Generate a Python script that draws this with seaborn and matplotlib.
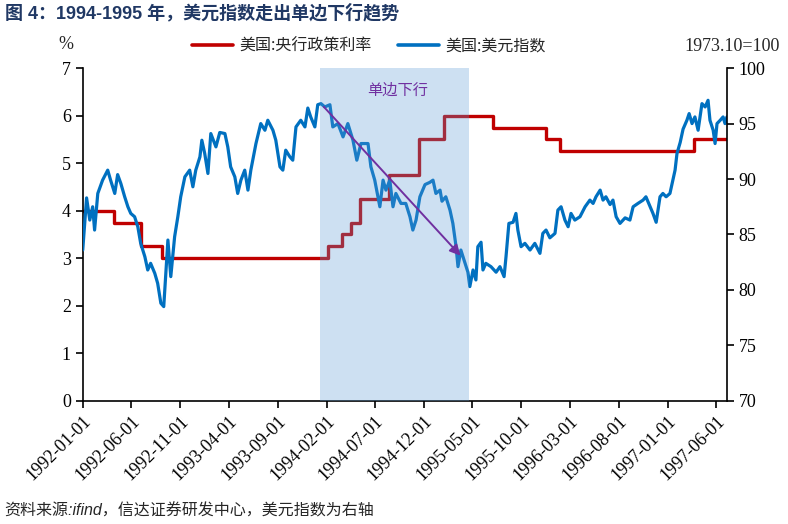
import matplotlib
matplotlib.use('Agg')
import matplotlib.pyplot as plt
from matplotlib.lines import Line2D
import pandas as pd
import seaborn as sns

# ---- data ----
rate_dates = ['1992-01-01', '1992-04-09', '1992-07-02', '1992-09-04', '1994-02-04', '1994-03-22',
              '1994-04-18', '1994-05-17', '1994-08-16', '1994-11-15', '1995-02-01', '1995-07-06',
              '1995-12-19', '1996-01-31', '1997-03-25', '1997-07-05']
rate_values = [4.00, 3.75, 3.25, 3.00, 3.25, 3.50, 3.75, 4.25, 4.75, 5.50, 6.00, 5.75,
               5.50, 5.25, 5.50, 5.50]

usdx_dates = [
    '1992-01-01', '1992-01-07', '1992-01-13', '1992-01-23', '1992-02-01', '1992-02-07', '1992-02-17',
    '1992-03-03', '1992-03-19', '1992-03-28', '1992-04-10', '1992-04-19', '1992-04-29', '1992-05-11',
    '1992-05-21', '1992-05-30', '1992-06-11', '1992-06-21', '1992-06-30', '1992-07-13', '1992-07-22',
    '1992-07-31', '1992-08-13', '1992-08-22', '1992-09-01', '1992-09-10', '1992-09-16', '1992-09-23',
    '1992-10-02', '1992-10-14', '1992-10-24', '1992-11-02', '1992-11-15', '1992-11-30', '1992-12-10',
    '1992-12-19', '1993-01-01', '1993-01-07', '1993-01-16', '1993-01-26', '1993-02-04', '1993-02-20',
    '1993-03-04', '1993-03-20', '1993-03-29', '1993-04-07', '1993-04-20', '1993-04-29', '1993-05-09',
    '1993-05-21', '1993-05-31', '1993-06-09', '1993-06-25', '1993-07-10', '1993-07-23', '1993-08-01',
    '1993-08-17', '1993-08-26', '1993-09-08', '1993-09-17', '1993-09-26', '1993-10-09', '1993-10-18',
    '1993-10-28', '1993-11-12', '1993-11-25', '1993-12-04', '1993-12-13', '1993-12-26', '1994-01-04',
    '1994-01-14', '1994-01-26', '1994-02-11', '1994-02-20', '1994-03-08', '1994-03-24', '1994-04-08',
    '1994-04-24', '1994-05-06', '1994-05-19', '1994-06-10', '1994-06-19', '1994-07-01', '1994-07-17',
    '1994-07-27', '1994-08-05', '1994-08-17', '1994-08-27', '1994-09-05', '1994-09-21', '1994-10-06',
    '1994-10-19', '1994-10-28', '1994-11-07', '1994-11-19', '1994-12-05', '1994-12-20', '1994-12-30',
    '1995-01-08', '1995-01-21', '1995-01-27', '1995-02-08', '1995-02-21', '1995-03-02', '1995-03-12',
    '1995-03-18', '1995-03-27', '1995-04-09', '1995-04-18', '1995-04-24', '1995-05-04', '1995-05-13',
    '1995-05-19', '1995-05-29', '1995-06-04', '1995-06-13', '1995-06-29', '1995-07-15', '1995-07-27',
    '1995-08-09', '1995-08-15', '1995-08-24', '1995-09-06', '1995-09-15', '1995-09-21', '1995-10-01',
    '1995-10-13', '1995-10-29', '1995-11-13', '1995-11-29', '1995-12-08', '1995-12-18', '1995-12-30',
    '1996-01-15', '1996-01-24', '1996-02-03', '1996-02-15', '1996-02-25', '1996-03-05', '1996-03-17',
    '1996-04-02', '1996-04-18', '1996-05-03', '1996-05-13', '1996-05-22', '1996-06-04', '1996-06-13',
    '1996-06-22', '1996-07-05', '1996-07-14', '1996-07-24', '1996-08-05', '1996-08-21', '1996-09-05',
    '1996-09-15', '1996-09-30', '1996-10-16', '1996-10-25', '1996-11-07', '1996-11-16', '1996-11-26',
    '1996-12-08', '1996-12-17', '1996-12-27', '1997-01-08', '1997-01-18', '1997-01-24', '1997-01-30',
    '1997-02-09', '1997-02-18', '1997-03-02', '1997-03-09', '1997-03-18', '1997-03-27', '1997-04-06',
    '1997-04-18', '1997-04-28', '1997-05-07', '1997-05-13', '1997-05-23', '1997-05-29', '1997-06-04',
    '1997-06-14', '1997-06-23', '1997-06-29', '1997-07-05']
usdx_values = [
    83.6, 86.0, 88.3, 86.3, 87.5, 85.4, 88.7,
    89.9, 90.8, 89.9, 88.7, 90.4, 89.6, 88.4,
    87.5, 86.9, 86.6, 85.7, 84.2, 83.0, 81.8,
    82.4, 81.5, 80.6, 78.8, 78.5, 81.2, 84.5,
    81.2, 84.8, 86.6, 88.4, 90.2, 90.8, 89.3,
    90.8, 92.0, 93.5, 92.3, 90.5, 94.1, 92.9,
    94.2, 94.1, 92.9, 91.1, 90.2, 88.7, 89.9,
    90.8, 89.0, 90.8, 93.2, 95.0, 94.4, 95.3,
    94.4, 93.5, 91.1, 90.8, 92.6, 92.0, 91.7,
    94.7, 95.3, 94.7, 96.4, 95.6, 94.7, 96.7,
    96.8, 96.5, 96.7, 94.7, 95.0, 93.8, 95.0,
    93.5, 91.7, 93.2, 93.2, 91.1, 89.9, 87.5,
    89.9, 89.0, 89.9, 87.5, 88.7, 87.8, 87.8,
    86.6, 85.4, 86.3, 88.4, 89.5, 89.7, 89.9,
    88.7, 89.0, 88.0, 88.4, 87.2, 86.0, 83.9,
    82.1, 83.6, 82.4, 81.6, 80.3, 81.8, 80.9,
    83.9, 84.3, 81.8, 82.4, 82.1, 81.6, 82.1,
    81.2, 83.0, 86.0, 86.1, 86.9, 85.4, 83.9,
    84.2, 83.6, 84.2, 83.3, 85.1, 85.4, 84.7,
    85.1, 87.2, 87.5, 86.3, 85.7, 86.9, 86.3,
    86.6, 87.5, 88.1, 87.8, 88.4, 89.0, 88.1,
    88.4, 87.7, 88.1, 86.6, 86.0, 86.5, 86.3,
    87.5, 87.8, 88.1, 88.4, 87.5, 86.9, 86.1,
    88.4, 88.7, 88.4, 88.7, 90.0, 90.8, 92.3,
    93.3, 94.5, 95.3, 95.9, 95.0, 95.6, 94.4,
    96.8, 96.5, 97.1, 95.3, 94.4, 93.2, 95.0,
    95.3, 95.6, 95.0, 95.6]

tick_labels = ['1992-01-01', '1992-06-01', '1992-11-01', '1993-04-01', '1993-09-01', '1994-02-01',
               '1994-07-01', '1994-12-01', '1995-05-01', '1995-10-01', '1996-03-01', '1996-08-01',
               '1997-01-01', '1997-06-01']

shade_period = ['1994-01-10', '1995-04-22']
arrow_from = ('1994-01-17', 96.7)
arrow_to = ('1995-04-01', 82.9)

# ---- plotting ----
sns.set_style('ticks')
plt.rcParams['font.family'] = ['Liberation Serif', 'Noto Sans CJK SC', 'DejaVu Sans']
cjk = ['Noto Sans CJK SC', 'DejaVu Sans']

red = '#C00000'
blue = '#0070C0'
purple = '#7030A0'

rate_dt = pd.to_datetime(rate_dates)
usdx_dt = pd.to_datetime(usdx_dates)

fig = plt.figure(figsize=(7.88, 5.24), dpi=100)
ax = fig.add_axes([0.105, 0.235, 0.8175, 0.635])
ax2 = ax.twinx()

sns.lineplot(x=rate_dt, y=rate_values, ax=ax, color=red, linewidth=2.4,
             drawstyle='steps-post', estimator=None)
sns.lineplot(x=usdx_dt, y=usdx_values, ax=ax2, color=blue, linewidth=2.3, estimator=None)

ax.set_xlim(pd.Timestamp('1992-01-01'), pd.Timestamp('1997-07-05'))
ax.set_ylim(0, 7)
ax2.set_ylim(70, 100)
ax.set_yticks(range(0, 8))
ax2.set_yticks(range(70, 101, 5))
ax.set_xticks(pd.to_datetime(tick_labels))
ax.set_xticklabels(tick_labels, rotation=45, ha='right', rotation_mode='anchor')
ax.set_xlabel('')
ax.set_ylabel('')
ax2.set_ylabel('')

for a in (ax, ax2):
    a.spines['top'].set_visible(False)
    for s in a.spines.values():
        s.set_color('black')
        s.set_linewidth(1.2)
    a.tick_params(direction='out', length=5, width=1.2, colors='black', labelsize=13)
ax.spines['right'].set_visible(False)
ax2.spines['left'].set_visible(False)
ax2.spines['bottom'].set_visible(False)

# shaded window (drawn over the lines, as in the original)
ax2.axvspan(pd.Timestamp(shade_period[0]), pd.Timestamp(shade_period[1]),
            color='#5B9BD5', alpha=0.3, lw=0, zorder=5)
ax2.annotate('', xy=(pd.Timestamp(arrow_to[0]), arrow_to[1]),
             xytext=(pd.Timestamp(arrow_from[0]), arrow_from[1]),
             arrowprops=dict(arrowstyle='-|>', color=purple, lw=1.4, mutation_scale=16),
             zorder=6)
ax2.text(pd.Timestamp('1994-09-10'), 98.0, '单边下行', color=purple, fontsize=11,
         family=cjk, ha='center', va='center', zorder=6)

handles = [Line2D([], [], color=red, lw=2.6), Line2D([], [], color=blue, lw=2.6)]
fig.legend(handles, ['美国:央行政策利率', '美国:美元指数'], loc='center',
           bbox_to_anchor=(0.468, 0.912), ncol=2, frameon=False,
           prop={'family': cjk, 'size': 11.5}, handlelength=2.6, handletextpad=0.4,
           columnspacing=1.6)

fig.text(0.083, 0.915, '%', fontsize=13, ha='center', va='center')
fig.text(0.99, 0.912, '1973.10=100', fontsize=13, ha='right', va='center')

fig.text(0.006, 0.975, '图 4：1994-1995 年，美元指数走出单边下行趋势', fontsize=13,
         fontweight='bold', color='#203864', family=['Liberation Sans', 'Noto Sans CJK SC'],
         ha='left', va='center')
fig.text(0.006, 0.025, '资料来源:ifind，信达证券研发中心，美元指数为右轴', fontsize=11.5,
         style='italic', family=['Liberation Sans', 'Noto Sans CJK SC'], ha='left', va='center')

fig.savefig('out.png', dpi=100)
